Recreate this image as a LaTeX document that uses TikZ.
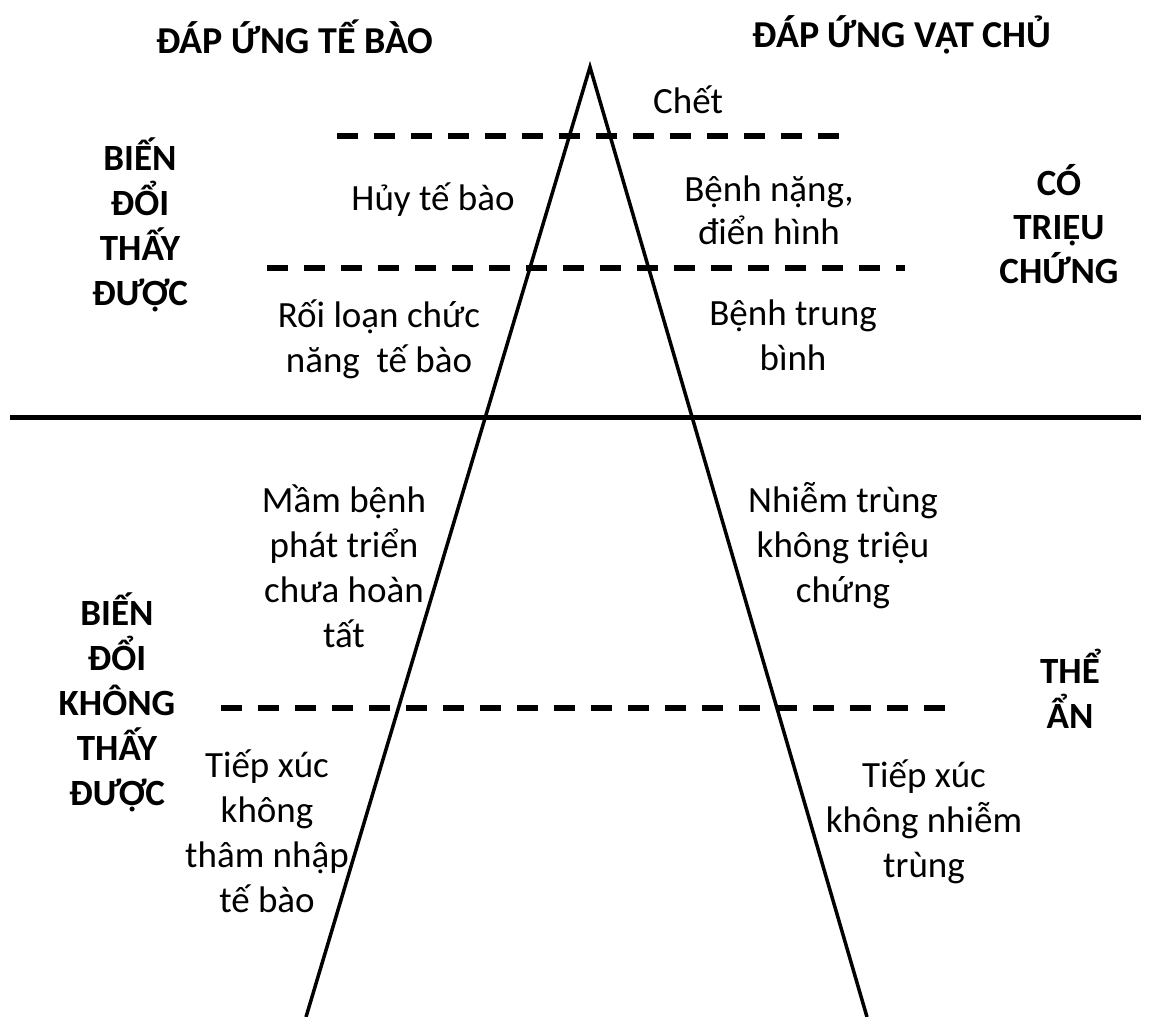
\documentclass[tikz,border=0pt]{standalone}
\usepackage{fontspec}
\setmainfont{Carlito}
\begin{document}
\begin{tikzpicture}[x=1pt,y=-1pt,
  % multi-line labels are placed by the baseline of their last line
  txt/.style={font=\fontsize{37}{45}\selectfont, align=center, inner sep=0pt, anchor=base},
  bold/.style={txt, font=\fontsize{37}{45}\selectfont\bfseries},
  heading/.style={txt, font=\fontsize{38}{45}\selectfont\bfseries},
  side/.style={line width=3.5pt, line cap=butt},
  level/.style={line width=6.5pt, dash pattern=on 21pt off 16pt},
  divider/.style={line width=5pt}]
\useasboundingbox (0,0) rectangle (1151,1017);

% pyramid outline
\coordinate (apex) at (590,67);
\coordinate (footL) at (306,1017);
\coordinate (footR) at (867,1017);
\draw[side, line join=miter] (footL) -- (apex) -- (footR);

% solid divider between visible and invisible changes
\coordinate (divL) at (10,417);
\coordinate (divR) at (1141,417);
\draw[divider] (divL) -- (divR);

% dashed level lines
\coordinate (d1a) at (337,136);  \coordinate (d1b) at (845,136);
\coordinate (d2a) at (267,268);  \coordinate (d2b) at (905,268);
\coordinate (d3a) at (221,708);  \coordinate (d3b) at (945,708);
\draw[level] (d1a) -- (d1b);
\draw[level] (d2a) -- (d2b);
\draw[level] (d3a) -- (d3b);

% column headings
\node[heading] (hcell) at (295,53) {ĐÁP ỨNG TẾ BÀO};
\node[heading] (hhost) at (902,47) {ĐÁP ỨNG VẬT CHỦ};

% side labels
\node[bold] (vis)    at (140,305) {BIẾN\\ĐỔI\\THẤY\\ĐƯỢC};
\node[bold] (invis)  at (117,805) {BIẾN\\ĐỔI\\KHÔNG\\THẤY\\ĐƯỢC};
\node[bold, font=\fontsize{37}{44}\selectfont\bfseries] (sympt) at (1059,283) {CÓ\\TRIỆU\\CHỨNG};
\node[bold] (latent) at (1070,728) {THỂ\\ẨN};

% cell responses
\node[txt] (lysis)   at (433,210) {Hủy tế bào};
\node[txt] (dysfn)   at (379,372) {Rối loạn chức\\năng\ \ tế bào};
\node[txt] (incomp)  at (344,647) {Mầm bệnh\\phát triển\\chưa hoàn\\tất};
\node[txt] (nopen)   at (267,912) {Tiếp xúc\\không\\thâm nhập\\tế bào};

% host responses
\node[txt] (death)   at (688,113) {Chết};
\node[txt, font=\fontsize{37}{43}\selectfont] (severe) at (769,244) {Bệnh nặng,\\điển hình};
\node[txt] (moder)   at (793,370) {Bệnh trung\\bình};
\node[txt] (asympt)  at (843,602) {Nhiễm trùng\\không triệu\\chứng};
\node[txt] (noinf)   at (924,877) {Tiếp xúc\\không nhiễm\\trùng};
\end{tikzpicture}
\end{document}
